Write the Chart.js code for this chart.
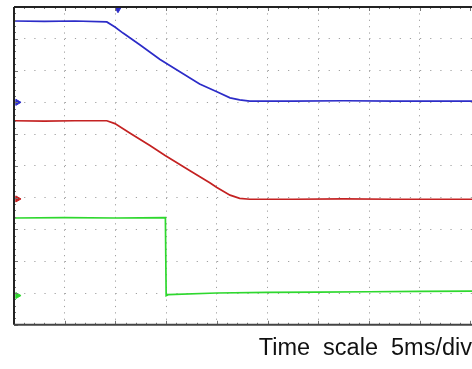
<!DOCTYPE html>
<html>
<head>
<meta charset="utf-8">
<script src="https://cdn.jsdelivr.net/npm/chart.js@4/dist/chart.umd.min.js"></script>
<style>
  html, body { margin: 0; padding: 0; background: #fff; }
  #wrap { width: 472px; height: 369px; }
</style>
</head>
<body>
<div id="wrap"><canvas id="scope"></canvas></div>
<script>
// trace values in divisions (x: time div, y: vertical div from bottom)
var blueX = [0, 0.6, 1.2, 1.83, 1.99, 2.15, 2.48, 2.88, 3.27, 3.66, 4.0, 4.26, 4.45, 4.65, 5.5, 6.5, 7.5, 8.5, 9.03];
var blueY = [9.56, 9.55, 9.56, 9.53, 9.37, 9.18, 8.81, 8.35, 7.96, 7.58, 7.33, 7.14, 7.08, 7.04, 7.04, 7.05, 7.04, 7.04, 7.04];

var redX = [0, 0.6, 1.2, 1.83, 1.99, 2.29, 2.68, 2.98, 3.47, 3.86, 4.0, 4.26, 4.45, 4.65, 5.5, 6.5, 7.5, 8.5, 9.03];
var redY = [6.42, 6.41, 6.42, 6.42, 6.33, 6.03, 5.64, 5.33, 4.85, 4.47, 4.32, 4.08, 3.98, 3.95, 3.95, 3.96, 3.95, 3.95, 3.95];

var greenX = [0, 1.0, 2.0, 2.985, 3.0, 3.04, 4.0, 5.0, 6.0, 7.0, 8.0, 9.03];
var greenY = [3.36, 3.37, 3.36, 3.37, 0.92, 0.95, 1.0, 1.02, 1.03, 1.04, 1.05, 1.06];

// channel ground markers and trigger marker
var markerX = [0.07, 0.07, 0.07];
var markerY = [7.0, 3.96, 0.92];
var markerColors = ['#2c2cc8', '#c42222', '#2ed82e'];
var triggerX = [2.05];
var triggerY = [9.93];

var xDivs = 9.03;
var yDivs = 10;

function pts(xs, ys) {
  return xs.map(function(x, i) { return { x: x, y: ys[i] }; });
}

var scopeFrame = {
  id: 'scopeFrame',
  afterDatasetsDraw: function(chart) {
    var ctx = chart.ctx, a = chart.chartArea;
    var xs = chart.scales.x, ys = chart.scales.y;
    ctx.save();
    ctx.strokeStyle = '#777';
    ctx.lineWidth = 1;
    ctx.beginPath();
    for (var v = 0; v <= yDivs + 0.001; v += 0.2) {
      var py = Math.round(ys.getPixelForValue(v)) + 0.5;
      var len = Math.abs(v - Math.round(v)) < 0.01 ? 4 : 2;
      ctx.moveTo(a.left, py); ctx.lineTo(a.left + len, py);
    }
    for (var u = 0; u <= xDivs; u += 0.2) {
      var px = Math.round(xs.getPixelForValue(u)) + 0.5;
      var l2 = Math.abs(u - Math.round(u)) < 0.01 ? 4 : 2;
      ctx.moveTo(px, a.top); ctx.lineTo(px, a.top + l2);
      ctx.moveTo(px, a.bottom); ctx.lineTo(px, a.bottom - l2);
    }
    ctx.stroke();
    // frame: left, top, bottom
    ctx.lineWidth = 2;
    ctx.strokeStyle = '#222';
    ctx.beginPath();
    ctx.moveTo(a.left, a.top); ctx.lineTo(a.right, a.top);
    ctx.moveTo(a.left, a.top); ctx.lineTo(a.left, a.bottom);
    ctx.stroke();
    ctx.strokeStyle = '#444';
    ctx.beginPath();
    ctx.moveTo(a.left, a.bottom); ctx.lineTo(a.right, a.bottom);
    ctx.stroke();
    ctx.restore();
  }
};

new Chart(document.getElementById('scope'), {
  type: 'line',
  data: {
    datasets: [
      { data: pts(blueX, blueY), borderColor: '#2c2cc8', borderWidth: 1.7, pointRadius: 0, tension: 0 },
      { data: pts(redX, redY), borderColor: '#c42222', borderWidth: 1.7, pointRadius: 0, tension: 0 },
      { data: pts(greenX, greenY), borderColor: '#2ed82e', borderWidth: 1.7, pointRadius: 0, tension: 0 },
      { type: 'scatter', data: pts(markerX, markerY), pointStyle: 'triangle', rotation: 90, radius: 3.5,
        backgroundColor: markerColors, borderColor: markerColors, clip: false },
      { type: 'scatter', data: pts(triggerX, triggerY), pointStyle: 'triangle', rotation: 180, radius: 3.5,
        backgroundColor: '#2c2cc8', borderColor: '#2c2cc8', clip: false }
    ]
  },
  options: {
    responsive: true,
    maintainAspectRatio: false,
    animation: false,
    events: [],
    layout: { autoPadding: false, padding: { left: 14, top: 7, right: 0, bottom: 0 } },
    plugins: {
      legend: { display: false },
      tooltip: { enabled: false },
      title: {
        display: true,
        position: 'bottom',
        align: 'end',
        text: 'Time  scale  5ms/div',
        color: '#111',
        font: { family: 'Liberation Sans, Arial, sans-serif', size: 23.5, weight: 'normal' },
        padding: { top: 10, bottom: 6 }
      }
    },
    scales: {
      x: {
        type: 'linear', min: 0, max: xDivs,
        ticks: { display: false, stepSize: 1 },
        grid: { color: '#a0a0a0', lineWidth: 1, drawTicks: false },
        border: { display: false, dash: [1.2, 5.16] }
      },
      y: {
        type: 'linear', min: 0, max: yDivs,
        ticks: { display: false, stepSize: 1 },
        grid: { color: '#a0a0a0', lineWidth: 1, drawTicks: false },
        border: { display: false, dash: [1.2, 8.95] }
      }
    }
  },
  plugins: [scopeFrame]
});
</script>
</body>
</html>
